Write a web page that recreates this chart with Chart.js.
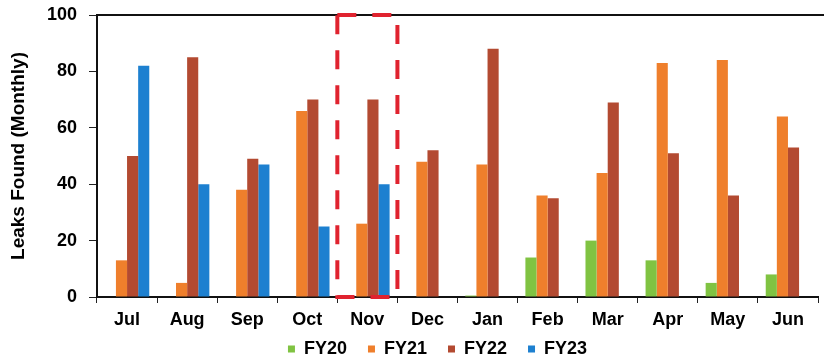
<!DOCTYPE html>
<html>
<head>
<meta charset="utf-8">
<script src="https://cdn.jsdelivr.net/npm/chart.js@4"></script>
<style>
  html, body { margin: 0; padding: 0; background: #ffffff; }
  #wrap { width: 824px; height: 357px; }
</style>
</head>
<body>
<div id="wrap"><canvas id="chart" width="824" height="357"></canvas></div>
<script>
// Monthly leak counts by fiscal year (July → June)
const months = ['Jul', 'Aug', 'Sep', 'Oct', 'Nov', 'Dec', 'Jan', 'Feb', 'Mar', 'Apr', 'May', 'Jun'];
const fy20 = [null, null, null, null, null, null, 0.5, 14, 20, 13, 5, 8];
const fy21 = [13, 5, 38, 66, 26, 48, 47, 36, 44, 83, 84, 64];
const fy22 = [50, 85, 49, 70, 70, 52, 88, 35, 69, 51, 36, 53];
const fy23 = [82, 40, 47, 25, 40, null, null, null, null, null, null, null];
const yTicks = [0, 20, 40, 60, 80, 100];
const highlightMonth = 'Nov';

const FONT = "'Liberation Sans', Arial, sans-serif";
Chart.defaults.font.family = FONT;
Chart.defaults.color = '#000000';

// Dashed red frame around the highlighted month, plus the closing top line
const framePlugin = {
  id: 'frame',
  afterLayout(chart) {
    // place the legend row a little right of centre and tucked under the month labels
    const lg = chart.legend;
    if (lg) {
      lg.left += 28.5; lg.right += 28.5;
      lg.top -= 13; lg.bottom -= 13;
    }
  },
  afterDatasetsDraw(chart) {
    const { ctx, scales: { x, y }, chartArea } = chart;
    const top = y.getPixelForValue(yTicks[yTicks.length - 1]);
    const bottom = y.getPixelForValue(yTicks[0]);
    ctx.save();
    // top border line
    ctx.strokeStyle = '#111111';
    ctx.lineWidth = 2;
    ctx.beginPath();
    ctx.moveTo(chartArea.left, top);
    ctx.lineTo(chart.width, top);
    ctx.stroke();
    // dashed highlight box
    const i = months.indexOf(highlightMonth);
    const half = (x.getPixelForValue(1) - x.getPixelForValue(0)) / 2;
    const cx = x.getPixelForValue(i);
    ctx.strokeStyle = '#e0232f';
    ctx.lineWidth = 4;
    ctx.setLineDash([19, 16]);
    ctx.beginPath();
    ctx.moveTo(cx - half, top);
    ctx.lineTo(cx + half, top);
    ctx.lineTo(cx + half, bottom);
    ctx.lineTo(cx - half, bottom);
    ctx.closePath();
    ctx.stroke();
    ctx.restore();
  }
};

new Chart(document.getElementById('chart'), {
  type: 'bar',
  data: {
    labels: months,
    datasets: [
      { label: 'FY20', data: fy20, backgroundColor: '#80c342' },
      { label: 'FY21', data: fy21, backgroundColor: '#ef7f2c' },
      { label: 'FY22', data: fy22, backgroundColor: '#b34a31' },
      { label: 'FY23', data: fy23, backgroundColor: '#1d80d0' }
    ]
  },
  options: {
    responsive: false,
    animation: false,
    layout: { padding: { left: 0, right: 6, top: 15, bottom: -24 } },
    datasets: { bar: { categoryPercentage: 0.74, barPercentage: 1.0, borderWidth: 0 } },
    plugins: {
      tooltip: { enabled: false },
      legend: {
        position: 'bottom',
        align: 'center',
        labels: {
          boxWidth: 7,
          boxHeight: 7,
          padding: 21,
          color: '#000000',
          font: { size: 18, weight: 'bold', family: FONT }
        }
      }
    },
    scales: {
      x: {
        offset: true,
        afterFit(scale) { scale.height = 35; },
        grid: { display: true, offset: true, drawOnChartArea: false, drawTicks: true, tickLength: 6, color: '#222222' },
        border: { display: true, color: '#111111', width: 2 },
        ticks: { padding: 6, color: '#000000', font: { size: 18, weight: 'bold', family: FONT } }
      },
      y: {
        min: 0,
        max: 100,
        afterFit(scale) { scale.width = 97; scale.paddingTop = 0; scale.paddingBottom = 0; },
        afterBuildTicks(scale) { scale.ticks = yTicks.map(v => ({ value: v })); },
        grid: { display: true, drawOnChartArea: false, drawTicks: true, tickLength: 8, color: '#222222' },
        border: { display: true, color: '#111111', width: 2 },
        ticks: { padding: 12, color: '#000000', font: { size: 18, weight: 'bold', family: FONT } },
        title: {
          display: true,
          text: 'Leaks Found (Monthly)',
          color: '#000000',
          padding: { top: 7, bottom: 0 },
          font: { size: 19, weight: 'bold', family: FONT }
        }
      }
    }
  },
  plugins: [framePlugin]
});
</script>
</body>
</html>
